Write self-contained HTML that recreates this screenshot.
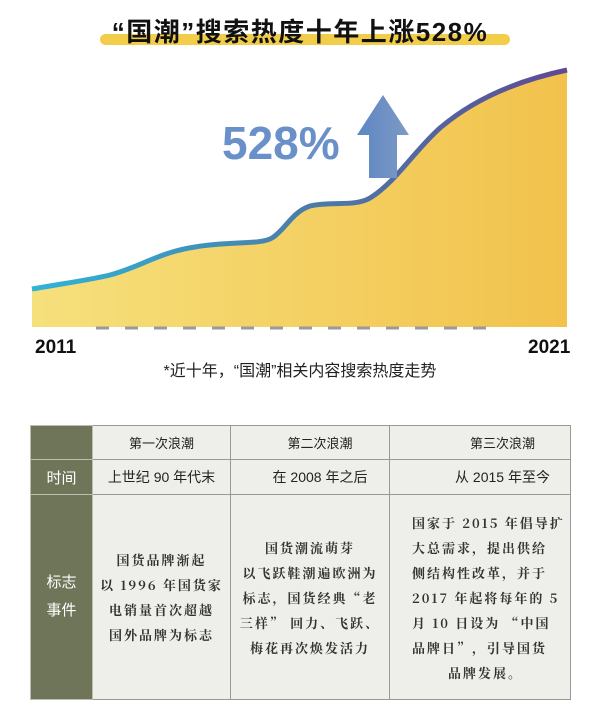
<!DOCTYPE html>
<html><head><meta charset="utf-8"><style>
body{margin:0;width:600px;height:705px;background:#fff;font-family:"Liberation Sans","Noto Sans CJK SC",sans-serif;position:relative;overflow:hidden}
.abs{position:absolute}
table{position:absolute;left:30px;top:425px;width:540px;border-collapse:collapse;table-layout:fixed}
td{border:1px solid #9a9a92;background:#eeeeea;text-align:center;color:#222;font-size:13px;padding:0}
td.h{background:#6e7558;color:#fff;font-size:15px;border-color:#bdbdb0}
.ev{font-family:"Noto Serif CJK SC",serif;font-size:13px;font-weight:bold;line-height:25px;letter-spacing:2px;color:#333}
</style></head><body>
<div class="abs" style="left:100px;top:34px;width:410px;height:11px;background:#f2cd4a;border-radius:6px"></div>
<div class="abs" style="left:0;width:600px;top:12px;text-align:center;font-size:26px;font-weight:bold;color:#111;letter-spacing:1.5px">“国潮”搜索热度十年上涨528%</div>
<svg class="abs" style="left:0;top:0" width="600" height="400">
<defs>
<linearGradient id="f" x1="0" x2="1"><stop offset="0" stop-color="#f6e07c"/><stop offset="1" stop-color="#f2c24c"/></linearGradient>
<linearGradient id="l" x1="0" x2="1"><stop offset="0" stop-color="#2fb4d8"/><stop offset="0.5" stop-color="#4a7eaa"/><stop offset="1" stop-color="#5e4a94"/></linearGradient>
<linearGradient id="a" x1="0" x2="1"><stop offset="0" stop-color="#5d86c4"/><stop offset="1" stop-color="#7e9ac4"/></linearGradient>
</defs>
<path d="M32,289 C60,284 90,280 110,275 C140,267 160,252 195,247 C230,241 260,245 272,238 C285,230 292,212 310,206 C330,201 355,207 370,198 C395,183 415,150 440,128 C475,98 520,80 567,70 L567,327 L32,327 Z" fill="url(#f)"/>
<path d="M32,289 C60,284 90,280 110,275 C140,267 160,252 195,247 C230,241 260,245 272,238 C285,230 292,212 310,206 C330,201 355,207 370,198 C395,183 415,150 440,128 C475,98 520,80 567,70" fill="none" stroke="url(#l)" stroke-width="5"/>
<line x1="96" y1="328" x2="490" y2="328" stroke="#9a9a9a" stroke-width="3" stroke-dasharray="13,16"/>
<path d="M369,178 L369,135 L357,135 L383,95 L409,135 L397,135 L397,178 Z" fill="url(#a)"/>
<text x="222" y="159" font-size="46" font-weight="bold" fill="#6a90c9" font-family="Liberation Sans,sans-serif">528%</text>
<text x="35" y="353" font-size="19" font-weight="bold" fill="#111" font-family="Liberation Sans,sans-serif">2011</text>
<text x="528" y="353" font-size="19" font-weight="bold" fill="#111" font-family="Liberation Sans,sans-serif">2021</text>
</svg>
<div class="abs" style="left:0;width:600px;top:357px;text-align:center;font-size:16px;color:#222">*近十年，“国潮”相关内容搜索热度走势</div>
<table>
<colgroup><col style="width:62px"><col style="width:138px"><col style="width:159px"><col style="width:181px"></colgroup>
<tr style="height:34px"><td class="h"></td><td>第一次浪潮</td><td style="padding-left:20px">第二次浪潮</td><td style="padding-left:45px">第三次浪潮</td></tr>
<tr style="height:35px"><td class="h">时间</td><td style="font-size:14px">上世纪 90 年代末</td><td style="font-size:14px;padding-left:20px">在 2008 年之后</td><td style="font-size:14px;padding-left:45px">从 2015 年至今</td></tr>
<tr style="height:205px"><td class="h" style="line-height:28px">标志<br>事件</td>
<td class="ev">国货品牌渐起<br>以 1996 年国货家<br>电销量首次超越<br>国外品牌为标志</td>
<td class="ev">国货潮流萌芽<br>以飞跃鞋潮遍欧洲为<br>标志，国货经典“老<br>三样” 回力、飞跃、<br>梅花再次焕发活力</td>
<td class="ev" style="text-align:left;padding-left:22px">国家于 2015 年倡导扩<br>大总需求，提出供给<br>侧结构性改革，并于<br>2017 年起将每年的 5<br>月 10 日设为 “中国<br>品牌日”，引导国货<br><span style="padding-left:36px">品牌发展。</span></td></tr>
</table>
</body></html>
